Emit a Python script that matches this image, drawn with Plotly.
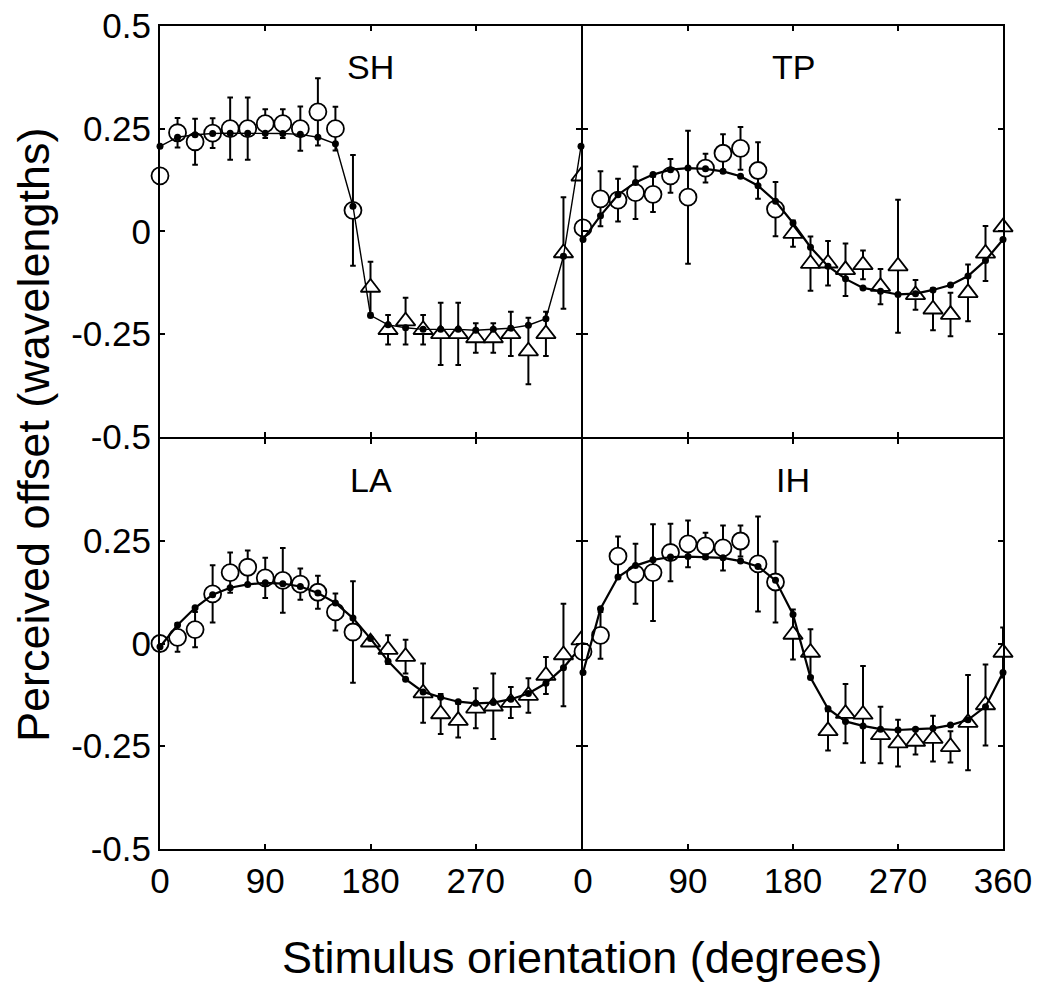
import plotly.graph_objects as go
from plotly.subplots import make_subplots

# ---------------- data ----------------
angles = [0, 15, 30, 45, 60, 75, 90, 105, 120, 135, 150, 165, 180,
          195, 210, 225, 240, 255, 270, 285, 300, 315, 330, 345, 360]
circle_angles = [0, 15, 30, 45, 60, 75, 90, 105, 120, 135, 150, 165]
triangle_angles = [180, 195, 210, 225, 240, 255, 270, 285, 300, 315, 330, 345, 360]

x_ticks = [0, 90, 180, 270, 360]
x_ticktext_left = ["0", "90", "180", "270", ""]
x_ticktext_right = ["0", "90", "180", "270", "360"]
y_ticks = [-0.5, -0.25, 0, 0.25, 0.5]
y_ticktext_top = ["-0.5", "-0.25", "0", "0.25", "0.5"]
y_ticktext_bottom = ["-0.5", "-0.25", "0", "0.25", ""]

panel_names = ["SH", "TP", "LA", "IH"]

# SH
sh_model = [0.207, 0.229, 0.235, 0.238, 0.239, 0.239, 0.239, 0.238, 0.236, 0.229, 0.213, 0.061,
            -0.205, -0.228, -0.235, -0.239, -0.239, -0.239, -0.241, -0.239, -0.236, -0.229,
            -0.213, -0.061, 0.207]
sh_circ = [0.135, 0.240, 0.218, 0.239, 0.250, 0.250, 0.262, 0.262, 0.250, 0.291, 0.250, 0.051]
sh_circ_err = [0, 0.036, 0.056, 0.036, 0.076, 0.076, 0.035, 0.035, 0.054, 0.082, 0.053, 0.135]
sh_tri = [-0.137, -0.240, -0.219, -0.240, -0.250, -0.250, -0.260, -0.260, -0.250, -0.292,
          -0.250, -0.053, 0.134]
sh_tri_err = [0.063, 0.036, 0.057, 0.036, 0.076, 0.076, 0.036, 0.036, 0.054, 0.081, 0.054, 0.136, 0]

# TP
tp_model = [-0.020, 0.038, 0.089, 0.119, 0.138, 0.150, 0.154, 0.152, 0.146, 0.134, 0.111, 0.073,
            0.020, -0.039, -0.085, -0.116, -0.138, -0.146, -0.154, -0.152, -0.143, -0.131,
            -0.109, -0.071, -0.020]
tp_circ = [0.008, 0.079, 0.076, 0.094, 0.090, 0.135, 0.083, 0.154, 0.190, 0.202, 0.148, 0.054]
tp_circ_err = [0, 0.067, 0.052, 0.064, 0.043, 0.041, 0.162, 0.035, 0.046, 0.052, 0.069, 0.066]
tp_tri = [-0.006, -0.079, -0.078, -0.094, -0.082, -0.135, -0.085, -0.155, -0.190, -0.203,
          -0.150, -0.054, 0.010]
tp_tri_err = [0.032, 0.066, 0.054, 0.064, 0.035, 0.043, 0.162, 0.036, 0.051, 0.053, 0.069, 0.067, 0]

# LA
la_model = [-0.008, 0.045, 0.087, 0.119, 0.136, 0.144, 0.148, 0.146, 0.139, 0.123, 0.099, 0.062,
            0.012, -0.043, -0.087, -0.118, -0.131, -0.142, -0.146, -0.144, -0.136, -0.122,
            -0.097, -0.059, -0.008]
la_circ = [0.000, 0.015, 0.034, 0.121, 0.173, 0.186, 0.160, 0.154, 0.145, 0.125, 0.077, 0.028]
la_circ_err = [0, 0.035, 0.043, 0.070, 0.049, 0.041, 0.049, 0.079, 0.038, 0.040, 0.045, 0.124]
la_tri = [0.003, -0.015, -0.032, -0.121, -0.172, -0.188, -0.158, -0.153, -0.144, -0.127,
          -0.078, -0.028, 0.008]
la_tri_err = [0, 0.035, 0.041, 0.072, 0.049, 0.041, 0.049, 0.080, 0.038, 0.042, 0.045, 0.125, 0]

# IH
ih_model = [-0.071, 0.085, 0.162, 0.190, 0.204, 0.211, 0.212, 0.211, 0.209, 0.201, 0.188, 0.154,
            0.071, -0.083, -0.159, -0.190, -0.201, -0.209, -0.211, -0.209, -0.207, -0.199,
            -0.186, -0.154, -0.071]
ih_circ = [-0.020, 0.020, 0.213, 0.170, 0.173, 0.222, 0.243, 0.238, 0.233, 0.250, 0.194, 0.150]
ih_circ_err = [0, 0.057, 0.048, 0.073, 0.118, 0.070, 0.057, 0.032, 0.055, 0.038, 0.116, 0.099]
ih_tri = [0.022, -0.022, -0.213, -0.171, -0.173, -0.223, -0.243, -0.239, -0.232, -0.252,
          -0.193, -0.150, -0.022]
ih_tri_err = [0.061, 0.057, 0.048, 0.072, 0.118, 0.069, 0.057, 0.032, 0.056, 0.038, 0.116, 0.099, 0.061]

panels = [
    (sh_model, sh_circ, sh_circ_err, sh_tri, sh_tri_err, 1, 1),
    (tp_model, tp_circ, tp_circ_err, tp_tri, tp_tri_err, 1, 2),
    (la_model, la_circ, la_circ_err, la_tri, la_tri_err, 2, 1),
    (ih_model, ih_circ, ih_circ_err, ih_tri, ih_tri_err, 2, 2),
]

# ---------------- figure ----------------
FONT = "Liberation Sans, Arial, Helvetica, sans-serif"
W, H = 1042, 983

fig = make_subplots(rows=2, cols=2, horizontal_spacing=0, vertical_spacing=0)

for i, (model, circ, circ_err, tri, tri_err, r, c) in enumerate(panels):
    lw = 1.4 if i == 0 else 2.2
    err_style = dict(type="data", visible=True, color="black", thickness=2, width=2.8)
    fig.add_trace(go.Scatter(
        x=circle_angles, y=circ, mode="markers",
        error_y=dict(array=circ_err, **err_style),
        marker=dict(symbol="circle", size=17, color="white",
                    line=dict(color="black", width=1.8)),
        cliponaxis=False, showlegend=False), row=r, col=c)
    fig.add_trace(go.Scatter(
        x=triangle_angles, y=tri, mode="markers",
        error_y=dict(array=tri_err, **err_style),
        marker=dict(symbol="triangle-up", size=17, color="white",
                    line=dict(color="black", width=1.8)),
        cliponaxis=(c == 1), showlegend=False), row=r, col=c)
    fig.add_trace(go.Scatter(
        x=angles, y=model, mode="lines+markers",
        line=dict(color="black", width=lw),
        marker=dict(symbol="circle", size=7, color="black"),
        cliponaxis=False, showlegend=False), row=r, col=c)

# domains (pixel-matched; shared borders overlap so the middle lines are single)
x_left = [160 / W, 581 / W]
x_right = [583 / W, 1003 / W]
y_top = [1 - 436.5 / H, 1 - 26 / H]
y_bot = [1 - 848.5 / H, 1 - 438.5 / H]

axis_common = dict(showline=True, linecolor="black", linewidth=2, mirror="ticks",
                   ticks="inside", ticklen=5, tickwidth=1.5, tickcolor="black",
                   showgrid=False, zeroline=False, automargin=False,
                   tickfont=dict(family=FONT, size=35, color="black"))

names = [("xaxis", "yaxis", x_left, y_top, False, True, y_ticktext_top, x_ticktext_left),
         ("xaxis2", "yaxis2", x_right, y_top, False, False, y_ticktext_top, x_ticktext_right),
         ("xaxis3", "yaxis3", x_left, y_bot, True, True, y_ticktext_bottom, x_ticktext_left),
         ("xaxis4", "yaxis4", x_right, y_bot, True, False, y_ticktext_bottom, x_ticktext_right)]

for xa, ya, xd, yd, showx, showy, ytt, xtt in names:
    fig.update_layout(**{
        xa: dict(domain=xd, range=[0, 360], tickvals=x_ticks, ticktext=xtt,
                 showticklabels=showx, **axis_common),
        ya: dict(domain=yd, range=[-0.5, 0.5], tickvals=y_ticks, ticktext=ytt,
                 showticklabels=showy, **axis_common),
    })

annotations = []
axis_refs = [("x", "y"), ("x2", "y2"), ("x3", "y3"), ("x4", "y4")]
for name, (xr, yr) in zip(panel_names, axis_refs):
    annotations.append(dict(text=name, x=180, y=0.40, xref=xr, yref=yr,
                            showarrow=False, xanchor="center", yanchor="middle",
                            font=dict(family=FONT, size=34, color="black")))

annotations.append(dict(text="Stimulus orientation (degrees)", x=582 / W, y=1 - 957 / H,
                        xref="paper", yref="paper", showarrow=False,
                        xanchor="center", yanchor="middle",
                        font=dict(family=FONT, size=45, color="black")))
annotations.append(dict(text="Perceived offset (wavelengths)", x=34 / W, y=1 - 435 / H,
                        xref="paper", yref="paper", showarrow=False, textangle=-90,
                        xanchor="center", yanchor="middle",
                        font=dict(family=FONT, size=45, color="black")))

fig.update_layout(width=W, height=H, margin=dict(l=0, r=0, t=0, b=0, autoexpand=False),
                  paper_bgcolor="white", plot_bgcolor="white",
                  showlegend=False, annotations=annotations,
                  font=dict(family=FONT, color="black"))

fig.write_html("out.html")
